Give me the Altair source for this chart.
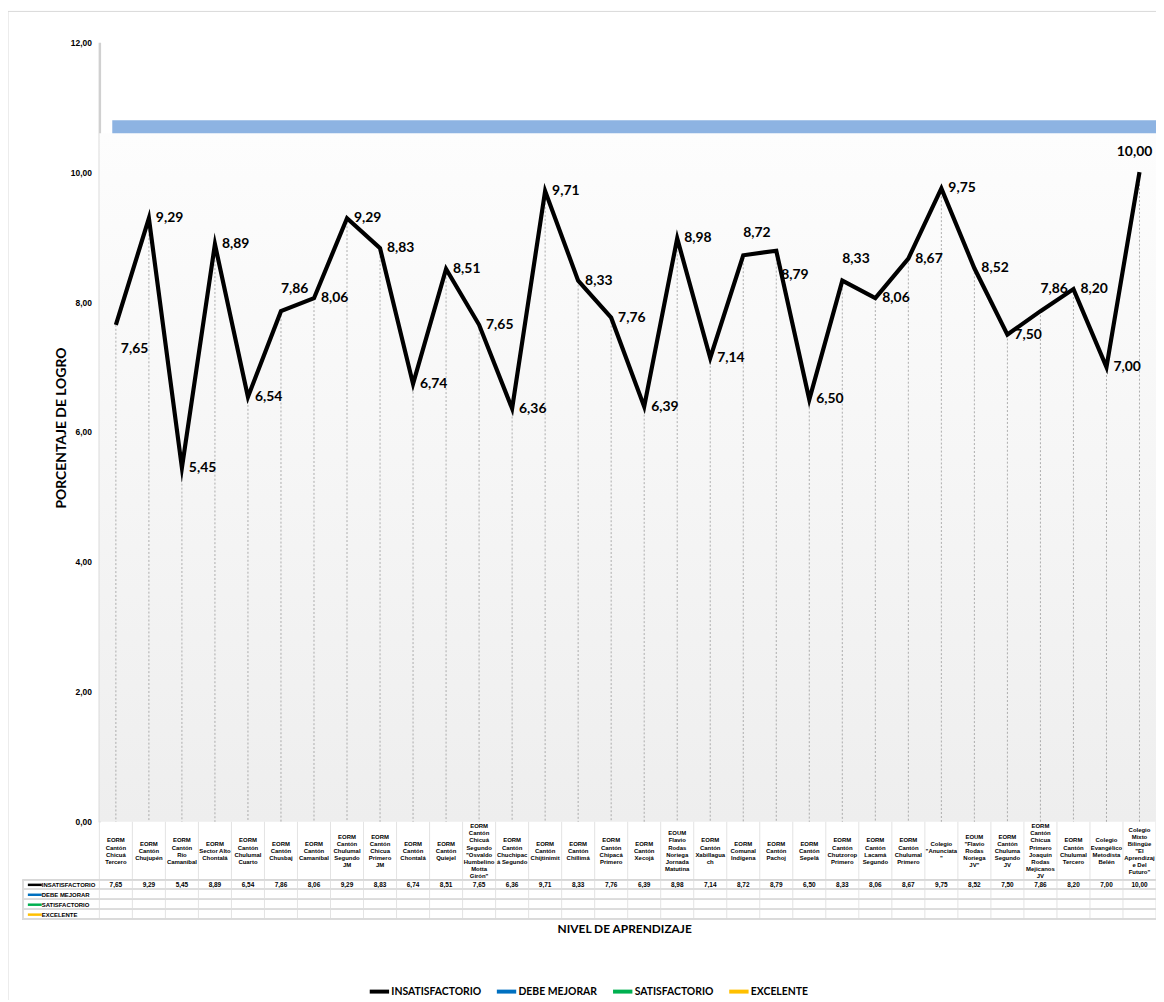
import altair as alt
import pandas as pd

schools = [
    "EORM\nCantón\nChicuá\nTercero",
    "EORM\nCantón\nChujupén",
    "EORM\nCantón\nRío\nCamanibal",
    "EORM\nSector Alto\nChontalá",
    "EORM\nCantón\nChulumal\nCuarto",
    "EORM\nCantón\nChusbaj",
    "EORM\nCantón\nCamanibal",
    "EORM\nCantón\nChulumal\nSegundo\nJM",
    "EORM\nCantón\nChicua\nPrimero\nJM",
    "EORM\nCantón\nChontalá",
    "EORM\nCantón\nQuiejel",
    "EORM\nCantón\nChicuá\nSegundo\n\"Osvaldo\nHumbelino\nMotta\nGirón\"",
    "EORM\nCantón\nChuchipac\ná Segundo",
    "EORM\nCantón\nChijtinimit",
    "EORM\nCantón\nChillimá",
    "EORM\nCantón\nChipacá\nPrimero",
    "EORM\nCantón\nXecojá",
    "EOUM\nFlavio\nRodas\nNoriega\nJornada\nMatutina",
    "EORM\nCantón\nXabillagua\nch",
    "EORM\nComunal\nIndígena",
    "EORM\nCantón\nPachoj",
    "EORM\nCantón\nSepelá",
    "EORM\nCantón\nChutzorop\nPrimero",
    "EORM\nCantón\nLacamá\nSegundo",
    "EORM\nCantón\nChulumal\nPrimero",
    "Colegio\n\"Anunciata\n\"",
    "EOUM\n\"Flavio\nRodas\nNoriega\nJV\"",
    "EORM\nCantón\nChuluma\nSegundo\nJV",
    "EORM\nCantón\nChicua\nPrimero\nJoaquín\nRodas\nMejicanos\nJV",
    "EORM\nCantón\nChulumal\nTercero",
    "Colegio\nEvangélico\nMetodista\nBelén",
    "Colegio\nMixto\nBilingüe\n\"El\nAprendizaj\ne Del\nFuturo\"",
]
scores = [7.65, 9.29, 5.45, 8.89, 6.54, 7.86, 8.06, 9.29, 8.83, 6.74, 8.51,
          7.65, 6.36, 9.71, 8.33, 7.76, 6.39, 8.98, 7.14, 8.72, 8.79, 6.50,
          8.33, 8.06, 8.67, 9.75, 8.52, 7.50, 7.86, 8.20, 7.00, 10.00]
label_side = ["below", "right", "right", "right", "right", "above", "right",
              "right", "right", "right", "right", "right", "right", "right",
              "right", "right", "right", "right", "right", "above", "below",
              "right", "above", "right", "right", "right", "right", "right",
              "above", "right", "right", "top"]
series = ["INSATISFACTORIO", "DEBE MEJORAR", "SATISFACTORIO", "EXCELENTE"]
series_colors = ["#000000", "#0070C0", "#00B050", "#FFC000"]
y_ticks = [0, 2, 4, 6, 8, 10, 12]
band_limits = [10.6, 10.8]

W, H = 1064, 785
N = len(scores)
LH = 7.1  # header line height

df = pd.DataFrame({"i": list(range(N)), "school": schools, "score": scores,
                   "side": label_side, "serie": series[0],
                   "nlines": [s.count("\n") + 1 for s in schools]})

xscale = alt.Scale(domain=[0, N], nice=False, zero=False)
yscale = alt.Scale(domain=[0, 12], nice=False, zero=True)
yaxis = alt.Axis(values=y_ticks, title="PORCENTAJE DE LOGRO",
                 labelExpr="replace(format(datum.value, '.2f'), '.', ',')")


def X(field):
    return alt.X(field, scale=xscale, axis=None)


def Y(field):
    return alt.Y(field, scale=yscale, axis=yaxis)


base = alt.Chart(df).transform_calculate(
    pos="datum.i + 0.5",
    lab="replace(format(datum.score, '.2f'), '.', ',')",
)

gradient = alt.LinearGradient(
    gradient="linear", x1=0, y1=0, x2=0, y2=1,
    stops=[alt.GradientStop(color="#fdfdfd", offset=0),
           alt.GradientStop(color="#eeeeee", offset=1)])

bg = alt.Chart(pd.DataFrame({"y0": [0.0], "y1": [band_limits[0]]})).mark_rect(
    color=gradient).encode(
    x=alt.value(0), x2=alt.value(W), y=Y("y0:Q"), y2="y1:Q")

blue = alt.Chart(pd.DataFrame({"y0": [band_limits[0]], "y1": [band_limits[1]]})).mark_rect(
    color="#8db3e2").encode(
    x=alt.value(13), x2=alt.value(W), y=Y("y0:Q"), y2="y1:Q")

drops = base.mark_rule(color="#9a9a9a", strokeWidth=0.8, strokeDash=[2, 2]).encode(
    x=X("pos:Q"), y=Y("score:Q"), y2=alt.datum(0))

line = base.mark_line(strokeWidth=4.2, strokeJoin="miter", strokeMiterLimit=20).encode(
    x=X("pos:Q"), y=Y("score:Q"),
    color=alt.Color("serie:N", scale=alt.Scale(domain=series, range=series_colors),
                    legend=alt.Legend(title=None, orient="none", legendX=270, legendY=944,
                                      direction="horizontal", symbolType="stroke",
                                      symbolStrokeWidth=4, symbolSize=380,
                                      labelFont="Lato", labelFontWeight="bold",
                                      labelFontSize=10.5, labelColor="#000000",
                                      columnPadding=7, labelOffset=0)))

placements = {
    "right": dict(align="left", dx=7, dy=0),
    "above": dict(align="left", dx=0, dy=-22),
    "below": dict(align="left", dx=5, dy=24),
    "top": dict(align="center", dx=-5, dy=-20),
}
label_layers = []
for side, kw in placements.items():
    label_layers.append(
        base.transform_filter(alt.datum.side == side).mark_text(
            font="Lato", fontWeight="bold", fontSize=14, color="#000000",
            baseline="middle", **kw).encode(
            x=X("pos:Q"), y=Y("score:Q"), text="lab:N"))

# data table
table_font = dict(font="Liberation Sans", fontWeight="bold", color="#000000")
header_layers = []
for n in sorted(set(df["nlines"])):
    header_layers.append(
        base.transform_filter(alt.datum.nlines == int(n)).mark_text(
            lineBreak="\n", fontSize=6, lineHeight=LH, baseline="middle",
            align="center", **table_font).encode(
            x=X("pos:Q"), y=alt.value(814.5 - (n - 1) * LH / 2), text="school:N"))

values_row = base.mark_text(fontSize=6.5, baseline="middle", align="center",
                            **table_font).encode(
    x=X("pos:Q"), y=alt.value(848.5), text="lab:N")

bounds = pd.DataFrame({"b": list(range(N + 1))})
vlines = alt.Chart(bounds).mark_rule(color="#dcdcdc", strokeWidth=0.8).encode(
    x=X("b:Q"), y=alt.value(785), y2=alt.value(883))

grid_layers = []
for yy in [844, 853, 863, 873, 883]:
    grid_layers.append(alt.Chart(bounds).mark_rule(color="#dcdcdc", strokeWidth=0.8).encode(
        x=alt.value(-77), x2=alt.value(W), y=alt.value(yy)))
grid_layers.append(alt.Chart(bounds).mark_rule(color="#dcdcdc", strokeWidth=0.8).encode(
    x=alt.value(-77), y=alt.value(844), y2=alt.value(883)))

row_layers = []
for k, (name, col) in enumerate(zip(series, series_colors)):
    yy = 848.5 + 10 * k
    sdf = pd.DataFrame({"name": [name]})
    row_layers.append(alt.Chart(sdf).mark_rule(color=col, strokeWidth=2.5).encode(
        x=alt.value(-72), x2=alt.value(-58), y=alt.value(yy)))
    row_layers.append(alt.Chart(sdf).mark_text(fontSize=6, align="left", baseline="middle",
                                               **table_font).encode(
        x=alt.value(-58), y=alt.value(yy), text="name:N"))

xtitle = alt.Chart(pd.DataFrame({"t": ["NIVEL DE APRENDIZAJE"]})).mark_text(
    font="Lato", fontWeight="bold", fontSize=12, color="#000000", align="center",
    baseline="middle").encode(x=alt.value(529), y=alt.value(893), text="t:N")

border = alt.Chart(pd.DataFrame({"t": [0]})).mark_rect(
    fill=None, stroke="#d9d9d9", strokeWidth=1).encode(
    x=alt.value(-92), y=alt.value(-31), x2=alt.value(W + 40), y2=alt.value(H + 400))

chart = alt.layer(
    bg, blue, drops, line, *label_layers, *header_layers, values_row, vlines,
    *grid_layers, *row_layers, xtitle, border
).properties(
    width=W, height=H,
    autosize=alt.AutoSizeParams(type="none"),
    padding={"left": 92, "top": 31, "right": 0, "bottom": 176},
).configure_view(stroke=None).configure_axis(
    domainColor="#d0d0d0", domainWidth=2.5, ticks=False, grid=False,
    labelFont="Liberation Sans", labelFontWeight="bold", labelFontSize=8.5,
    labelColor="#000000", labelPadding=8,
    titleFont="Lato", titleFontWeight="bold", titleFontSize=14, titleColor="#000000",
).configure_axisY(titleX=-38, titleY=388, titleAngle=270, titleAlign="center",
                  titleBaseline="middle")

chart.save("out.html", embed_options={"renderer": "svg", "actions": False})
